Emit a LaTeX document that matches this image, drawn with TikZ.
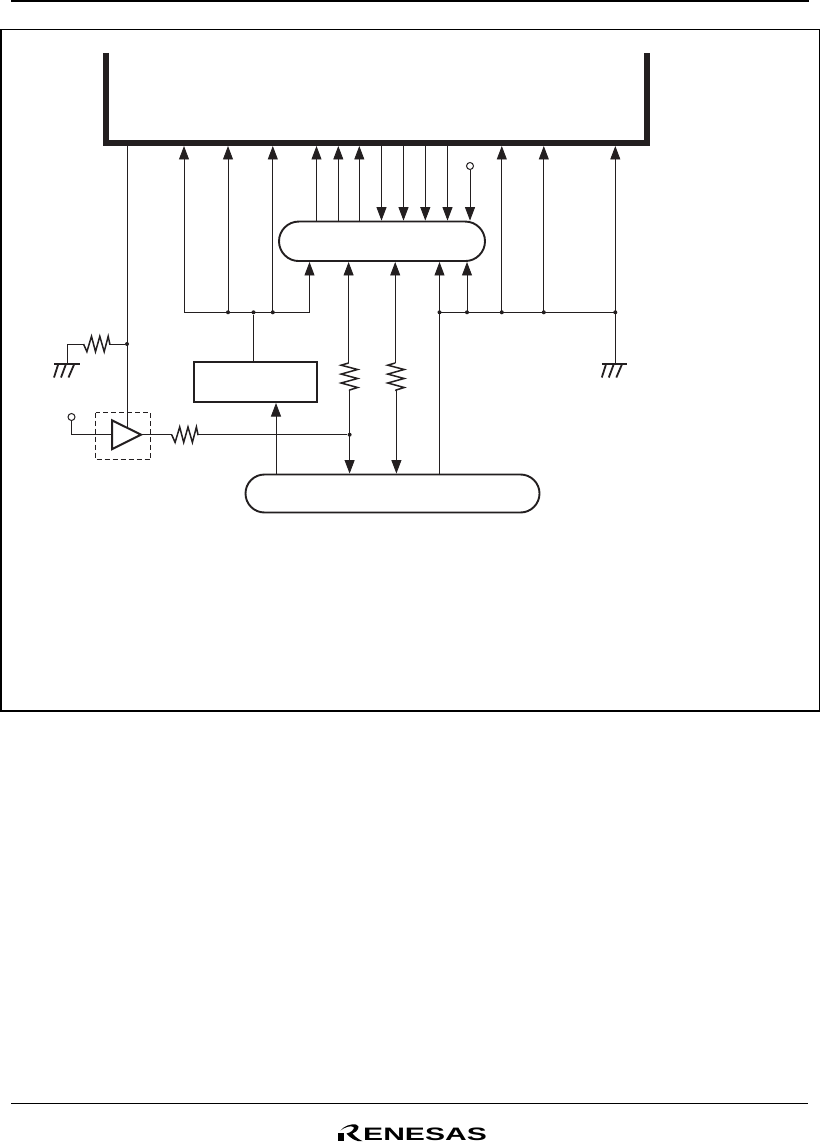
\documentclass[tikz,border=0pt]{standalone}
\usepackage{fontspec}
\setmainfont{Liberation Sans}
\usetikzlibrary{shapes.misc,arrows.meta}
\definecolor{ink}{HTML}{231F20}
\tikzset{
  x=1pt,y=-1pt,
  wire/.style={draw=ink,line width=0.9pt},
  headtip/.tip={Triangle[length=13.5pt,width=10pt,fill=ink]},
  uparrow/.style={wire,-headtip},
  capsule/.style={rounded rectangle,draw=ink,line width=1.9pt,inner sep=0pt,fill=white},
  plainbox/.style={rectangle,draw=ink,line width=2pt,inner sep=0pt,fill=white},
  dot/.style={circle,fill=ink,inner sep=0pt,minimum size=4pt},
  pin/.style={circle,draw=ink,line width=1pt,fill=white,inner sep=0pt,minimum size=7pt},
  zig/.style={draw=ink,line width=1.5pt,line join=miter,miter limit=10},
}
\newcommand{\hres}[2]{% horizontal zigzag between two named coordinates
  \draw[zig] (#1) -- ++(3.4,7.7) -- ++(4.6,-15.4) -- ++(4,15.4) -- ++(4.3,-15.4)
    -- ++(4.4,15.4) -- ++(4,-15.4) -- ++(1.6,7.7) -- (#2);}
\newcommand{\vres}[2]{% vertical zigzag between two named coordinates
  \draw[zig] (#1) -- ++(-7.5,2.2) -- ++(16.5,4.3) -- ++(-16.5,4.6) -- ++(16.5,4.4)
    -- ++(-16.5,4.5) -- ++(16.5,4.5) -- ++(-8,2.5) -- (#2);}
\newcommand{\earth}[1]{% ground symbol hanging from coordinate #1
  \draw[draw=ink,line width=1.9pt] ([xshift=-13.5pt]#1) -- ([xshift=12pt]#1);
  \draw[draw=ink,line width=1.8pt]
    ([xshift=-9.2pt]#1) -- ([xshift=-13.5pt,yshift=-13.5pt]#1)
    ([xshift=-1.5pt]#1) -- ([xshift=-6.5pt,yshift=-13.5pt]#1)
    ([xshift=6.8pt]#1) -- ([xshift=1pt,yshift=-13.5pt]#1);}
\begin{document}
\begin{tikzpicture}
\useasboundingbox (0,0) rectangle (820,1147);
% page furniture
\draw[draw=black,line width=2pt] (11,1) coordinate (ta) -- (809,1) coordinate (tb);
\draw[draw=black,line width=1pt] (11,1103.8) coordinate (fa) -- (808,1103.8) coordinate (fb);
\fill[black] (0,29) rectangle (820,30.2);
\fill[black] (0,29) rectangle (2,711.5);
\fill[black] (0,709.6) rectangle (820,711.5);
\fill[black] (819,29) rectangle (820,711.5);
% chip outline
\draw[draw=ink,line width=6pt,miter limit=10] (106,53) -- (106,143) -- (647,143) -- (647,53);
% main blocks
\node[capsule,minimum width=206pt,minimum height=39.5pt] (upper) at (382,241.3) {};
\node[capsule,minimum width=294pt,minimum height=38pt] (lower) at (392.5,493.5) {};
\node[plainbox,minimum width=123pt,minimum height=40pt] (latch) at (255,382) {};
% bus anchor points
\foreach \n/\x in {a/127,b/184,c/228,d/272.8,e/316.5,f/338.3,g/359.3,h/381.5,i/403.5,j/425.3,k/447.5,m/501.8,n/543.8,o/615.3}
  \coordinate (bus\n) at (\x,146);
\coordinate (left) at (253.5,312.3);
\coordinate (rt) at (439.5,312.3);
\coordinate (xp) at (309.5,312.3);
\coordinate (xq) at (467,312.3);
\node[pin] (vcc) at (470,166) {};
% upper capsule to bus
\foreach \n in {e,f,g} \draw[uparrow] (bus\n |- upper.north) -- (bus\n);
\foreach \n in {h,i,j,k} \draw[uparrow] (bus\n) -- (bus\n |- upper.north);
\draw[uparrow] (vcc.south) -- (vcc.south |- upper.north);
% left group
\draw[wire] (busb |- left) -- (xp);
\draw[uparrow] (xp) -- (xp |- upper.south);
\foreach \n in {b,c,d} \draw[uparrow] (bus\n |- left) -- (bus\n);
\foreach \n in {c,d} \node[dot] at (bus\n |- left) {};
\node[dot] (ldot) at (left) {};
\draw[wire] (ldot) -- (left |- latch.north);
% right group
\draw[wire] (rt) -- (buso |- rt);
\draw[uparrow] (lower.north -| rt) -- (rt |- upper.south);
\draw[uparrow] (xq) -- (xq |- upper.south);
\foreach \n in {m,n,o} \draw[uparrow] (bus\n |- rt) -- (bus\n);
\node[dot] at (rt) {};
\node[dot] at (xq) {};
\foreach \n in {m,n,o} \node[dot] at (bus\n |- rt) {};
% right ground
\coordinate (gr) at (615.3,364);
\draw[wire] (buso |- rt) -- (gr);
\earth{gr}
% data lines with pull-ups
\coordinate (ra) at (348.6,363);
\coordinate (rb) at (349.6,389.5);
\coordinate (rc) at (395.2,363);
\coordinate (rd) at (396.4,389.5);
\draw[wire,headtip-] (ra |- upper.south) -- (ra);
\vres{ra}{rb}
\draw[wire,-headtip] (rb) -- (rb |- lower.north);
\draw[wire,headtip-] (rc |- upper.south) -- (rc);
\vres{rc}{rd}
\draw[wire,-headtip] (rd) -- (rd |- lower.north);
% latch input
\coordinate (li) at (276,473);
\draw[uparrow] (li |- lower.north) -- (li |- latch.south);
% buffer
\coordinate (tria) at (112,420.3);
\coordinate (trib) at (141,434.7);
\coordinate (tric) at (112,449.2);
\draw[draw=ink,line width=1pt,dash pattern=on 5pt off 3pt] (95.5,412.5) rectangle (150.5,459.5);
\draw[draw=ink,line width=2pt,miter limit=10] (tria) -- (trib) -- (tric) -- cycle;
\node[pin] (inp) at (71.5,417) {};
\coordinate (inc) at (71.5,434.7);
\draw[wire] (inp.south) -- (inc) -- (tria |- inc);
\coordinate (rea) at (171.7,434.7);
\coordinate (reb) at (198.3,434.7);
\draw[wire] (trib) -- (rea);
\hres{rea}{reb}
\node[dot] (jn) at (349.6,434.7) {};
\draw[wire] (reb) -- (jn);
% vertical line from chip to buffer, with pull-down
\coordinate (bi) at (127,427.5);
\draw[wire] (busa) -- (bi);
\node[dot] (pd) at (127,344) {};
\coordinate (rl) at (83.5,344);
\coordinate (rr) at (110,344);
\hres{rl}{rr}
\draw[wire] (rr) -- (pd);
\coordinate (gl) at (67.5,364);
\draw[wire] (rl) -- (gl |- rl) -- (gl);
\earth{gl}
% logo
\node[anchor=south west,inner sep=0pt,text=black] (logo) at (363,1141.3)
  {\scalebox{1.67}[1]{\fontsize{18pt}{18pt}\selectfont\bfseries ENESAS}};
\fill[black] (338,1133) rectangle (344,1141);
\fill[black] (340.5,1130.5) .. controls (344,1126) and (351,1123.5) .. (356,1124.5)
  .. controls (361,1126) and (358,1131.5) .. (352.5,1133.5)
  .. controls (355,1136.5) and (358.5,1139.5) .. (362.5,1141)
  .. controls (356,1142.5) and (350,1137.5) .. (346.5,1133.5)
  .. controls (350,1133) and (355,1129.5) .. (353.5,1127)
  .. controls (351,1125) and (344,1127.5) .. cycle;
\end{tikzpicture}
\end{document}
